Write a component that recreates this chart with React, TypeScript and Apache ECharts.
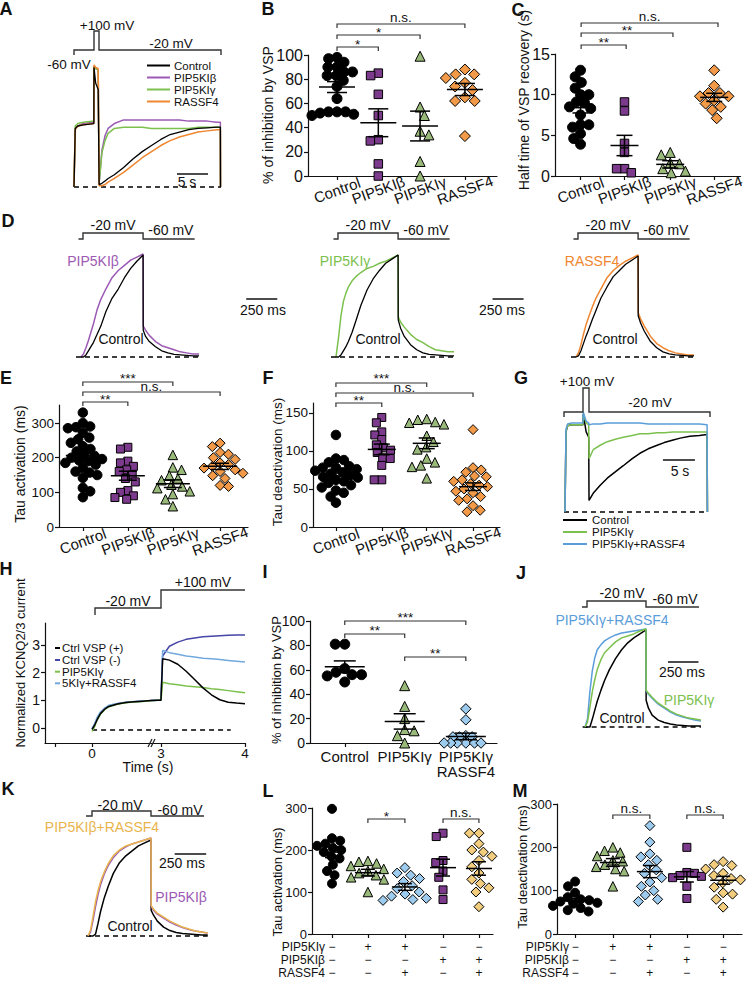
import React, { useEffect, useRef } from 'react';
import * as echarts from 'echarts';

const FONT = '"Liberation Sans", Arial, Helvetica, sans-serif';
const INK = '#111111';

const C_BLACK = '#000000';
const C_PURPLE = '#9C5AB4';
const C_GREEN = '#7CC04E';
const C_ORANGE = '#EF8630';
const C_BLUE = '#5B9DDA';
const C_NAVY = '#4545A6';
const C_LBLUE = '#72A8DE';
const C_TAN = '#E9B44C';
const M_PURPLE = '#7B3A8B';
const M_GREEN = '#98B979';
const M_ORANGE = '#F29A47';
const M_LBLUE = '#9DCBEE';
const M_TAN = '#F2CD7D';

// ---------------- Panel A (normalized current, time in s) ----------------
const aTime = [0, 0.2, 0.6, 1.5, 3.2, 3.22, 3.5, 3.9, 4.0, 4.05, 4.5, 5.0, 5.5, 6.5, 8, 9.5, 11, 12.5, 14, 15.5, 17, 18.5, 20, 21.5, 23, 23.6, 23.62];
const aControl = [0, 0.48, 0.5, 0.51, 0.52, 0.98, 0.85, 0.8, 0.8, 0.02, 0.03, 0.05, 0.07, 0.1, 0.16, 0.23, 0.29, 0.34, 0.39, 0.43, 0.45, 0.47, 0.48, 0.485, 0.49, 0.49, 0];
const aBeta = [0, 0.48, 0.5, 0.52, 0.53, 0.99, 0.97, 0.96, 0.96, 0.03, 0.3, 0.42, 0.48, 0.52, 0.55, 0.55, 0.55, 0.55, 0.55, 0.55, 0.55, 0.54, 0.54, 0.54, 0.53, 0.53, 0];
const aGamma = [0, 0.5, 0.52, 0.53, 0.54, 0.99, 0.97, 0.96, 0.96, 0.03, 0.28, 0.38, 0.44, 0.48, 0.49, 0.49, 0.49, 0.48, 0.48, 0.48, 0.48, 0.48, 0.49, 0.49, 0.49, 0.49, 0];
const aRassf = [0, 0.47, 0.5, 0.51, 0.52, 1.0, 0.98, 0.97, 0.97, 0.01, 0.01, 0.02, 0.04, 0.07, 0.12, 0.18, 0.24, 0.29, 0.34, 0.38, 0.41, 0.43, 0.45, 0.46, 0.47, 0.47, 0];

// ---------------- Panel B (% inhibition) ----------------
const bControl = [98, 97, 94, 90, 90, 86, 86, 83, 83, 79, 74, 64, 53, 53, 53, 52, 51, 50];
const bBeta = [85, 83, 67.5, 50, 30, 29, 10, 0];
const bGamma = [99, 57, 50, 37, 34, 12, 0];
const bRassf = [88, 84, 84, 81, 77, 74, 71, 65, 62, 62, 33];
const bMean = [73.5, 44, 41.3, 71.5];
const bSem = [4.5, 11.5, 12.3, 5];
const bTicks = [0, 20, 40, 60, 80, 100];

// ---------------- Panel C (half time, s) ----------------
const cControl = [13, 12.2, 11.5, 10.8, 10, 10, 9.1, 9, 8.5, 8.3, 7.5, 6.3, 6.3, 6, 5.2, 4.6, 3.9];
const cBeta = [9.1, 8, 4, 2.9, 0.9, 0.9, 0.4];
const cGamma = [2.9, 2.6, 1.6, 1.5, 0.9, 0.6, 0.4];
const cRassf = [13, 11.1, 10.2, 10.2, 9.8, 9.8, 9.3, 8.9, 8.5, 8.1, 7.1];
const cMean = [8.4, 3.75, 1.43, 9.67];
const cSem = [0.65, 1.25, 0.45, 0.5];
const cTicks = [0, 5, 10, 15];

// ---------------- Panels D, J, K (time in ms, normalized) ----------------
const tMs = [0, 20, 40, 60, 80, 100, 130, 160, 200, 250, 300, 350, 400, 450, 500, 501, 520, 550, 600, 650, 700, 750, 800, 850, 900, 950];
const d1Beta = [0, 0.03, 0.09, 0.16, 0.24, 0.32, 0.46, 0.56, 0.66, 0.77, 0.84, 0.89, 0.94, 0.97, 1.0, 0.3, 0.26, 0.21, 0.15, 0.11, 0.09, 0.07, 0.05, 0.04, 0.03, 0.03];
const d1Ctrl = [0, 0, 0.02, 0.06, 0.1, 0.14, 0.22, 0.3, 0.44, 0.57, 0.66, 0.77, 0.86, 0.93, 0.99, 0.26, 0.2, 0.15, 0.1, 0.06, 0.04, 0.025, 0.02, 0.015, 0.01, 0.01];
const d2Gamma = [0, 0.18, 0.4, 0.54, 0.62, 0.68, 0.74, 0.78, 0.82, 0.86, 0.88, 0.91, 0.93, 0.96, 0.99, 0.39, 0.34, 0.29, 0.22, 0.17, 0.14, 0.1, 0.07, 0.06, 0.05, 0.05];
const d2Ctrl = [0, 0, 0.02, 0.06, 0.1, 0.15, 0.24, 0.35, 0.5, 0.65, 0.76, 0.84, 0.91, 0.95, 0.99, 0.36, 0.28, 0.2, 0.12, 0.07, 0.04, 0.025, 0.02, 0.015, 0.01, 0.01];
const d3Rassf = [0, 0.04, 0.12, 0.22, 0.31, 0.38, 0.48, 0.57, 0.66, 0.77, 0.84, 0.89, 0.93, 0.96, 0.99, 0.43, 0.37, 0.3, 0.2, 0.13, 0.09, 0.06, 0.04, 0.03, 0.02, 0.02];
const d3Ctrl = [0, 0.01, 0.06, 0.13, 0.2, 0.26, 0.36, 0.45, 0.57, 0.68, 0.78, 0.84, 0.9, 0.94, 0.98, 0.4, 0.33, 0.25, 0.15, 0.09, 0.05, 0.03, 0.02, 0.015, 0.01, 0.01];
const jRassf = [0, 0.08, 0.36, 0.57, 0.7, 0.78, 0.83, 0.87, 0.9, 0.93, 0.95, 0.96, 0.97, 0.98, 0.99, 0.37, 0.33, 0.29, 0.23, 0.19, 0.15, 0.12, 0.1, 0.085, 0.07, 0.06];
const jGamma = [0, 0.05, 0.2, 0.36, 0.48, 0.58, 0.68, 0.75, 0.8, 0.86, 0.9, 0.92, 0.94, 0.97, 0.99, 0.37, 0.34, 0.3, 0.24, 0.2, 0.16, 0.13, 0.11, 0.09, 0.08, 0.07];
const jCtrl = [0, 0, 0, 0.08, 0.17, 0.26, 0.37, 0.47, 0.58, 0.69, 0.78, 0.85, 0.9, 0.94, 0.98, 0.27, 0.19, 0.12, 0.07, 0.045, 0.03, 0.02, 0.015, 0.01, 0.01, 0.01];
const kRassf = [0, 0.06, 0.2, 0.35, 0.46, 0.55, 0.65, 0.73, 0.81, 0.87, 0.91, 0.93, 0.95, 0.97, 0.99, 0.31, 0.27, 0.23, 0.19, 0.15, 0.12, 0.09, 0.07, 0.05, 0.04, 0.03];
const kBeta = [0, 0.04, 0.16, 0.3, 0.42, 0.52, 0.63, 0.71, 0.79, 0.86, 0.9, 0.93, 0.95, 0.97, 0.99, 0.3, 0.26, 0.22, 0.18, 0.14, 0.11, 0.085, 0.065, 0.05, 0.04, 0.03];
const kCtrl = [0, 0, 0, 0.02, 0.13, 0.25, 0.39, 0.5, 0.63, 0.74, 0.81, 0.86, 0.91, 0.94, 0.97, 0.26, 0.21, 0.15, 0.09, 0.055, 0.035, 0.025, 0.02, 0.015, 0.01, 0.01];

// ---------------- Panel E (tau activation) / F (tau deactivation) ----------------
const eControl = [330, 300, 290, 288, 285, 272, 258, 253, 243, 233, 225, 218, 210, 205, 200, 196, 192, 190, 185, 180, 170, 160, 157, 150, 142, 113, 103, 86];
const eBeta = [230, 225, 190, 185, 175, 165, 160, 150, 140, 130, 105, 100, 90, 85, 80];
const eGamma = [208, 172, 165, 148, 140, 135, 122, 117, 112, 103, 95, 80, 60];
const eRassf = [242, 232, 215, 210, 200, 195, 185, 180, 175, 170, 165, 160, 155, 148, 140, 120, 117];
const eMean = [206, 148, 125, 175];
const eSem = [12, 13, 11, 9];
const eTicks = [0, 100, 200, 300];
const fControl = [121, 90, 88, 85, 80, 78, 78, 76, 74, 72, 70, 68, 66, 65, 62, 60, 58, 55, 52, 48, 45, 40, 32];
const fBeta = [144, 137, 125, 121, 115, 108, 104, 101, 98, 91, 90, 81, 62, 62];
const fGamma = [142, 141, 138, 137, 135, 120, 112, 105, 102, 90, 85, 81, 79, 64];
const fRassf = [128, 78, 75, 72, 67, 66, 62, 60, 57, 55, 53, 50, 47, 45, 40, 37, 35, 28, 22, 20];
const fMean = [67, 102, 110, 53];
const fSem = [4, 7, 7, 5];
const fTicks = [0, 50, 100, 150];

// ---------------- Panel G (time in s) ----------------
const gTime = [0, 0.15, 0.4, 1, 2, 2.8, 2.85, 3.3, 3.7, 3.75, 4.4, 5.5, 6.6, 8, 9.1, 10.5, 11.7, 13, 14.4, 15.5, 16.9, 18, 19.5, 21, 22.2, 22.25];
const gCtrl = [0, 0.9, 0.97, 0.98, 0.98, 0.98, 1.1, 0.9, 0.84, 0.13, 0.21, 0.3, 0.38, 0.46, 0.52, 0.6, 0.66, 0.71, 0.75, 0.78, 0.81, 0.83, 0.85, 0.86, 0.87, 0];
const gGamma = [0, 0.9, 0.97, 0.98, 0.98, 0.98, 1.1, 1.0, 0.98, 0.6, 0.7, 0.75, 0.79, 0.82, 0.84, 0.86, 0.88, 0.88, 0.89, 0.89, 0.9, 0.9, 0.9, 0.9, 0.9, 0];
const gRassf = [0, 0.93, 0.99, 1.0, 1.0, 1.0, 1.12, 1.02, 1.0, 0.98, 0.99, 0.99, 1.0, 1.0, 1.0, 1.0, 1.0, 0.99, 0.99, 0.99, 0.99, 0.99, 0.99, 0.99, 0.98, 0];

// ---------------- Panel H (time in s, axis broken between 0.8 and 3 s) ----------------
const hTime = [0, 0.03, 0.06, 0.1, 0.15, 0.2, 0.3, 0.4, 0.5, 0.6, 0.7, 0.78, 3.0, 3.02, 3.1, 3.2, 3.3, 3.4, 3.5, 3.6, 3.7, 3.8, 3.9, 4.0];
const hCtrlPlus = [-0.05, 0.1, 0.3, 0.52, 0.68, 0.78, 0.87, 0.92, 0.95, 0.97, 0.99, 1.0, 1.0, 2.5, 2.45, 2.3, 2.05, 1.75, 1.45, 1.2, 1.02, 0.93, 0.9, 0.88];
const hCtrlMinus = [-0.02, 0.12, 0.33, 0.55, 0.7, 0.8, 0.88, 0.92, 0.95, 0.97, 0.99, 1.0, 1.0, 2.6, 2.95, 3.1, 3.2, 3.25, 3.29, 3.31, 3.33, 3.35, 3.36, 3.36];
const hGamma = [-0.12, 0.05, 0.28, 0.5, 0.66, 0.77, 0.86, 0.91, 0.94, 0.96, 0.98, 1.0, 1.0, 1.65, 1.6, 1.56, 1.52, 1.49, 1.46, 1.42, 1.39, 1.35, 1.31, 1.27];
const hRassf = [-0.05, 0.15, 0.38, 0.58, 0.72, 0.82, 0.89, 0.93, 0.96, 0.98, 0.99, 1.0, 1.0, 2.8, 2.72, 2.66, 2.6, 2.56, 2.52, 2.5, 2.47, 2.44, 2.41, 2.38];
const hTicks = [0, 1, 2, 3];
const hTimeTicks = ['', '0', '3', '4'];

// ---------------- Panel I ----------------
const iControl = [81, 81, 61, 58, 56, 56, 55, 50];
const iGamma = [47, 30, 20, 11, 10, 6, 0];
const iRassf = [28, 19, 6, 5, 5, 5, 0, 0, 0, 0, 0, 0];
const iMean = [62.5, 17.7, 5.4];
const iSem = [4.8, 6.3, 2.7];
const iTicks = [0, 20, 40, 60, 80, 100];

// ---------------- Panels L / M ----------------
const lCtrl = [298, 228, 222, 215, 210, 205, 200, 195, 185, 180, 165, 150, 140, 120];
const lGamma = [174, 172, 168, 162, 155, 150, 145, 140, 135, 130, 100];
const lGammaR = [158, 145, 140, 132, 125, 115, 108, 100, 95, 90, 85, 82, 80];
const lBeta = [240, 232, 175, 170, 150, 135, 105, 82];
const lBetaR = [240, 240, 215, 200, 195, 185, 175, 160, 145, 130, 120, 110, 100, 65];
const lMean = [195, 146, 112, 158, 156];
const lSem = [13, 8, 8, 20, 16];
const mCtrl = [121, 110, 95, 85, 80, 78, 75, 72, 70, 65, 60, 55, 52];
const mGamma = [200, 192, 188, 180, 170, 168, 160, 155, 150, 145, 110];
const mGammaR = [250, 212, 185, 178, 170, 160, 148, 140, 130, 120, 110, 100, 90, 80, 75];
const mBeta = [200, 142, 140, 135, 133, 130, 110, 82];
const mBetaR = [167, 160, 158, 150, 140, 135, 128, 125, 118, 108, 95, 92, 80, 62];
const mMean = [77, 165, 144, 132, 124];
const mSem = [5, 9, 14, 12, 9];
const lmTicks = [0, 100, 200, 300];

const catsFour = ['Control', 'PIP5KIβ', 'PIP5KIγ', 'RASSF4'];
const catsI = ['Control', 'PIP5KIγ', 'PIP5KIγ\nRASSF4'];
const tableRows = ['PIP5KIγ', 'PIP5KIβ', 'RASSF4'];
const tableSigns = [
  ['−', '+', '+', '−', '−'],
  ['−', '−', '−', '+', '+'],
  ['−', '−', '+', '−', '+'],
];

// ------------------------------------------------------------------
type Box = { left: number; top: number; width: number; height: number; xMin: number; xMax: number; yMin: number; yMax: number };
const px = (b: Box, v: number) => b.left + ((v - b.xMin) / (b.xMax - b.xMin)) * b.width;

function swarm(vals: number[], pxY: number, d: number): number[] {
  const order = vals.map((_, i) => i).sort((a, b) => vals[b] - vals[a]);
  const placed: [number, number][] = [];
  const out = new Array(vals.length).fill(0);
  order.forEach((i, n) => {
    const y = vals[i] * pxY;
    const cands = [0];
    placed.forEach(([qx, qy]) => {
      const dy = Math.abs(qy - y);
      if (dy < d) {
        const dx = Math.sqrt(d * d - dy * dy);
        cands.push(qx + dx, qx - dx);
      }
    });
    const sgn = n % 2 ? 1 : -1;
    cands.sort((a, b) => Math.abs(a) - Math.abs(b) || (a - b) * sgn);
    let best = 0;
    for (const c of cands) {
      if (placed.every(([qx, qy]) => (qx - c) ** 2 + (qy - y) ** 2 >= d * d - 0.01)) {
        best = c;
        break;
      }
    }
    out[i] = best;
    placed.push([best, y]);
  });
  return out;
}

function txt(x: number, y: number, text: string, o: any = {}) {
  const align = o.align || 'center';
  const va = o.va || 'middle';
  return {
    type: 'text', x, y, rotation: o.rot || 0, silent: true, z: 50,
    style: {
      text, fill: o.color || INK, fontSize: o.size || 13.5, fontFamily: FONT,
      fontWeight: o.bold ? 'bold' : 'normal',
      align, verticalAlign: va, textAlign: align, textVerticalAlign: va,
    },
  };
}
function seg(x1: number, y1: number, x2: number, y2: number, o: any = {}) {
  return { type: 'line', silent: true, z: 50, shape: { x1, y1, x2, y2 }, style: { stroke: o.color || '#222', lineWidth: o.w || 1.3 } };
}
function poly(points: number[][], o: any = {}) {
  return { type: 'polyline', silent: true, z: 50, shape: { points }, style: { stroke: o.color || '#333', lineWidth: o.w || 1.4, fill: 'none' } };
}

function buildOption() {
  const grid: any[] = [];
  const xAxis: any[] = [];
  const yAxis: any[] = [];
  const series: any[] = [];
  const graphic: any[] = [];
  const axLine = { show: true, onZero: false, lineStyle: { color: INK, width: 1.2 } };
  const tickStyle = { color: INK, width: 1.2 };
  const hidden = { show: false, splitLine: { show: false } };

  const addGrid = (b: Box, xa: any, ya: any) => {
    const g = grid.length;
    grid.push({ left: b.left, top: b.top, width: b.width, height: b.height, containLabel: false });
    xAxis.push({ gridIndex: g, type: 'value', min: b.xMin, max: b.xMax, ...xa });
    yAxis.push({ gridIndex: g, type: 'value', min: b.yMin, max: b.yMax, ...ya });
    return { g, x: xAxis.length - 1, y: yAxis.length - 1 };
  };

  const tracePanel = (b: Box, time: number[], traces: { vals: number[]; color: string; w?: number }[], baseline = true) => {
    const ax = addGrid(b, hidden, hidden);
    traces.forEach((tr, k) => {
      series.push({
        type: 'line', xAxisIndex: ax.x, yAxisIndex: ax.y, silent: true, clip: false, z: 3 + k,
        showSymbol: false, symbol: 'none',
        lineStyle: { color: tr.color, width: tr.w || 1.5 },
        data: time.map((t, j) => [t, tr.vals[j]]),
        markLine: k === 0 && baseline ? {
          silent: true, symbol: ['none', 'none'], label: { show: false },
          lineStyle: { color: '#000', width: 1.5, type: [5, 4] }, data: [{ yAxis: 0 }],
        } : undefined,
      });
    });
    return ax;
  };

  const scatterPanel = (
    b: Box, pos: number[],
    groups: { vals: number[]; symbol: string; color: string; size: number; spread?: number }[],
    mean: number[], sem: number[],
    o: { yTicks: number[]; tickSize: number; cats: string[]; catSize: number; rotate?: number; catMargin: number; lineHeight?: number; meanHalf: number; capHalf: number; split?: boolean },
  ) => {
    const labelFor = (v: number) => {
      const k = pos.findIndex((p) => Math.abs(p - v) < 1e-6);
      return k >= 0 ? o.cats[k] : '';
    };
    const labelBase = {
      show: true, showMinLabel: true, showMaxLabel: true, hideOverlap: false, formatter: labelFor,
      rotate: o.rotate || 0, align: 'center', verticalAlign: o.rotate ? 'middle' : 'top',
      margin: o.catMargin, fontSize: o.catSize, fontFamily: FONT, color: INK, lineHeight: o.lineHeight,
    };
    const firstVals = o.split ? pos.filter((_, k) => k % 2 === 0) : pos;
    const ax = addGrid(b, {
      axisLine: axLine, splitLine: { show: false },
      axisTick: { show: true, customValues: pos, length: 4, lineStyle: tickStyle },
      axisLabel: { ...labelBase, customValues: firstVals },
    }, {
      axisLine: axLine, splitLine: { show: false },
      axisTick: { show: true, customValues: o.yTicks, length: 4, lineStyle: tickStyle },
      axisLabel: { show: true, customValues: o.yTicks, showMinLabel: true, showMaxLabel: true, fontSize: o.tickSize, fontFamily: FONT, color: INK, margin: 5 },
    });
    if (o.split) {
      xAxis.push({
        gridIndex: ax.g, type: 'value', min: b.xMin, max: b.xMax, position: 'bottom',
        axisLine: { show: false }, axisTick: { show: false }, splitLine: { show: false },
        axisLabel: { ...labelBase, customValues: pos.filter((_, k) => k % 2 === 1) },
      });
    }
    const pxX = b.width / (b.xMax - b.xMin);
    const pxY = b.height / (b.yMax - b.yMin);
    groups.forEach((g, k) => {
      const off = swarm(g.vals, pxY, g.size * (g.spread || 0.95));
      series.push({
        type: 'scatter', xAxisIndex: ax.x, yAxisIndex: ax.y, silent: true, clip: false, z: 3,
        symbol: g.symbol, symbolSize: g.size,
        itemStyle: { color: g.color, borderColor: '#000', borderWidth: 1, opacity: 1 },
        data: g.vals.map((v, j) => [pos[k] + off[j] / pxX, v]),
      });
    });
    const hw = o.meanHalf;
    const cw = o.capHalf;
    series.push({
      type: 'custom', xAxisIndex: ax.x, yAxisIndex: ax.y, silent: true, z: 6, clip: false,
      data: mean.map((m, k) => [pos[k], m, sem[k]]),
      renderItem: (_p: any, api: any) => {
        const x = api.value(0);
        const m = api.value(1);
        const s = api.value(2);
        const c = api.coord([x, m]);
        const t = api.coord([x, m + s]);
        const d = api.coord([x, m - s]);
        const st = { stroke: '#000', lineWidth: 1.5 };
        return {
          type: 'group',
          children: [
            { type: 'line', shape: { x1: c[0] - hw, y1: c[1], x2: c[0] + hw, y2: c[1] }, style: st },
            { type: 'line', shape: { x1: c[0], y1: t[1], x2: c[0], y2: d[1] }, style: st },
            { type: 'line', shape: { x1: c[0] - cw, y1: t[1], x2: c[0] + cw, y2: t[1] }, style: st },
            { type: 'line', shape: { x1: c[0] - cw, y1: d[1], x2: c[0] + cw, y2: d[1] }, style: st },
          ],
        };
      },
    });
    return ax;
  };

  const bracket = (b: Box, x1: number, x2: number, y: number, label: string, ty: number, size = 13.5) => {
    const a = px(b, x1);
    const c = px(b, x2);
    graphic.push(poly([[a, y + 4], [a, y], [c, y], [c, y + 4]], { w: 1.2, color: '#333' }));
    graphic.push(txt((a + c) / 2, ty, label, { size }));
  };

  const scaleBar = (b: Box, x0: number, len: number, y: number, label: string, tx: number, ty: number) => {
    graphic.push(seg(px(b, x0), y, px(b, x0 + len), y, { w: 1.5, color: '#111' }));
    graphic.push(txt(tx, ty, label, { size: 14 }));
  };

  const R = Math.PI / 2;

  // ---------- A ----------
  const boxA: Box = { left: 74, top: 65, width: 147, height: 122, xMin: 0, xMax: 23.7, yMin: 0, yMax: 1 };
  tracePanel(boxA, aTime, [
    { vals: aBeta, color: C_PURPLE }, { vals: aGamma, color: C_GREEN },
    { vals: aRassf, color: C_ORANGE }, { vals: aControl, color: C_BLACK, w: 1.3 },
  ]);
  graphic.push(poly([[74, 55], [74, 50], [94, 50], [94, 31], [99, 31], [99, 50], [221, 50], [221, 55]]));
  graphic.push(txt(107, 25, '+100 mV'), txt(171, 43, '-20 mV'), txt(69, 64, '-60 mV'));
  [['Control', C_BLACK, 65.5], ['PIP5KIβ', C_PURPLE, 77.5], ['PIP5KIγ', C_GREEN, 89.5], ['RASSF4', C_ORANGE, 101.5]].forEach(([t, c, y]) => {
    graphic.push(seg(147, y as number, 170, y as number, { color: c, w: 2 }));
    graphic.push(txt(174, y as number, t as string, { align: 'left', size: 11.5 }));
  });
  scaleBar(boxA, 16.6, 5, 174, '5 s', 187, 182);

  // ---------- B ----------
  const boxB: Box = { left: 308, top: 55, width: 189, height: 121, xMin: 0, xMax: 4.3, yMin: 0, yMax: 100 };
  scatterPanel(boxB, [0.66, 1.6, 2.55, 3.57], [
    { vals: bControl, symbol: 'circle', color: '#000', size: 10, spread: 0.85 },
    { vals: bBeta, symbol: 'rect', color: M_PURPLE, size: 8.5 },
    { vals: bGamma, symbol: 'triangle', color: M_GREEN, size: 10 },
    { vals: bRassf, symbol: 'diamond', color: M_ORANGE, size: 11 },
  ], bMean, bSem, { yTicks: bTicks, tickSize: 16, cats: catsFour, catSize: 15, rotate: 20, catMargin: 14, meanHalf: 18, capHalf: 10, split: true });
  bracket(boxB, 0.66, 1.6, 47, '*', 44);
  bracket(boxB, 0.66, 2.55, 35, '*', 32);
  bracket(boxB, 0.66, 3.57, 24, 'n.s.', 17);
  graphic.push(txt(268, 115, '% of inhibition by VSP', { rot: R, size: 14 }));

  // ---------- C ----------
  const boxC: Box = { left: 555, top: 54, width: 190, height: 122, xMin: 0, xMax: 4.22, yMin: 0, yMax: 15 };
  scatterPanel(boxC, [0.58, 1.58, 2.62, 3.62], [
    { vals: cControl, symbol: 'circle', color: '#000', size: 10, spread: 0.85 },
    { vals: cBeta, symbol: 'rect', color: M_PURPLE, size: 8.5 },
    { vals: cGamma, symbol: 'triangle', color: M_GREEN, size: 10 },
    { vals: cRassf, symbol: 'diamond', color: M_ORANGE, size: 11, spread: 0.85 },
  ], cMean, cSem, { yTicks: cTicks, tickSize: 16, cats: catsFour, catSize: 15, rotate: 20, catMargin: 14, meanHalf: 14, capHalf: 8, split: true });
  bracket(boxC, 0.58, 1.58, 45, '**', 42);
  bracket(boxC, 0.58, 2.62, 33, '**', 30);
  bracket(boxC, 0.58, 3.62, 23, 'n.s.', 16);
  graphic.push(txt(524, 100, 'Half time of VSP recovery (s)', { rot: R, size: 14 }));

  // ---------- D ----------
  const boxD1: Box = { left: 76, top: 254, width: 123, height: 103, xMin: -40, xMax: 950, yMin: 0, yMax: 1 };
  const boxD2: Box = { ...boxD1, left: 331 };
  const boxD3: Box = { ...boxD1, left: 571 };
  tracePanel(boxD1, tMs, [{ vals: d1Beta, color: C_PURPLE }, { vals: d1Ctrl, color: C_BLACK, w: 1.3 }]);
  tracePanel(boxD2, tMs, [{ vals: d2Gamma, color: C_GREEN }, { vals: d2Ctrl, color: C_BLACK, w: 1.3 }]);
  tracePanel(boxD3, tMs, [{ vals: d3Rassf, color: C_ORANGE }, { vals: d3Ctrl, color: C_BLACK, w: 1.3 }]);
  [[boxD1, 'PIP5KIβ', C_PURPLE, 93, 121], [boxD2, 'PIP5KIγ', C_GREEN, 345, 378], [boxD3, 'RASSF4', C_ORANGE, 592, 615]].forEach(([b, name, col, lx, cx]) => {
    const bb = b as Box;
    const s = px(bb, -20);
    const up = px(bb, 0) + 2;
    const dn = px(bb, 500);
    const e = px(bb, 915);
    graphic.push(poly([[s, 239], [up, 239], [up, 233], [dn, 233], [dn, 239], [e, 239]]));
    graphic.push(txt((up + dn) / 2, 225, '-20 mV', { size: 14 }));
    graphic.push(txt((dn + e) / 2 + 2, 230, '-60 mV', { size: 14 }));
    graphic.push(txt(lx as number, 261, name as string, { color: col, size: 14 }));
    graphic.push(txt(cx as number, 339, 'Control', { size: 14 }));
  });
  scaleBar(boxD1, 1330, 250, 299, '250 ms', 263, 310);
  scaleBar(boxD2, 1260, 250, 299, '250 ms', 502, 310);

  // ---------- E ----------
  const boxE: Box = { left: 59, top: 405, width: 189, height: 122, xMin: 0, xMax: 4.2, yMin: 0, yMax: 352 };
  scatterPanel(boxE, [0.53, 1.53, 2.53, 3.58], [
    { vals: eControl, symbol: 'circle', color: '#000', size: 9.5, spread: 0.85 },
    { vals: eBeta, symbol: 'rect', color: M_PURPLE, size: 8 },
    { vals: eGamma, symbol: 'triangle', color: M_GREEN, size: 9.5 },
    { vals: eRassf, symbol: 'diamond', color: M_ORANGE, size: 10, spread: 0.85 },
  ], eMean, eSem, { yTicks: eTicks, tickSize: 13.5, cats: catsFour, catSize: 15, rotate: 20, catMargin: 14, meanHalf: 17, capHalf: 9, split: true });
  bracket(boxE, 0.53, 1.53, 402, '**', 399);
  bracket(boxE, 0.53, 2.53, 382, '***', 378);
  bracket(boxE, 0.53, 3.58, 392, 'n.s.', 386);
  graphic.push(txt(20, 464, 'Tau activation (ms)', { rot: R, size: 14 }));

  // ---------- F ----------
  const boxF: Box = { left: 313, top: 403, width: 187, height: 124, xMin: 0, xMax: 4.16, yMin: 0, yMax: 163 };
  scatterPanel(boxF, [0.51, 1.53, 2.53, 3.56], [
    { vals: fControl, symbol: 'circle', color: '#000', size: 9.5, spread: 0.85 },
    { vals: fBeta, symbol: 'rect', color: M_PURPLE, size: 8 },
    { vals: fGamma, symbol: 'triangle', color: M_GREEN, size: 9.5 },
    { vals: fRassf, symbol: 'diamond', color: M_ORANGE, size: 10, spread: 0.85 },
  ], fMean, fSem, { yTicks: fTicks, tickSize: 13.5, cats: catsFour, catSize: 15, rotate: 20, catMargin: 14, meanHalf: 14, capHalf: 8, split: true });
  bracket(boxF, 0.51, 1.53, 403, '**', 400);
  bracket(boxF, 0.51, 2.53, 383, '***', 378);
  bracket(boxF, 0.51, 3.56, 393, 'n.s.', 387);
  graphic.push(txt(277, 462, 'Tau deactivation (ms)', { rot: R, size: 13.5 }));

  // ---------- G ----------
  const boxG: Box = { left: 564, top: 423, width: 144, height: 89, xMin: -0.16, xMax: 22.34, yMin: 0, yMax: 1 };
  tracePanel(boxG, gTime, [{ vals: gCtrl, color: C_BLACK }, { vals: gGamma, color: C_GREEN }, { vals: gRassf, color: C_BLUE }]);
  graphic.push(poly([[564, 417], [564, 412], [583, 412], [583, 388], [589, 388], [589, 412], [710, 412], [710, 417]]));
  graphic.push(txt(587, 381, '+100 mV'), txt(650, 402, '-20 mV'));
  [['Control', C_BLACK, 520], ['PIP5KIγ', C_GREEN, 532], ['PIP5KIγ+RASSF4', C_BLUE, 544]].forEach(([t, c, y]) => {
    graphic.push(seg(563, y as number, 587, y as number, { color: c, w: 2 }));
    graphic.push(txt(592, y as number, t as string, { align: 'left', size: 11.5 }));
  });
  scaleBar(boxG, 15.3, 5, 460, '5 s', 680, 471);

  // ---------- H ----------
  const boxH: Box = { left: 45, top: 623, width: 200, height: 120, xMin: -0.56, xMax: 1.82, yMin: -0.54, yMax: 3.79 };
  const hShow = (t: number) => (t < 2 ? t : t - 2.18);
  const hX = [-0.44, 0, 0.82, 1.82];
  const hAx = addGrid(boxH, {
    axisLine: axLine, splitLine: { show: false },
    axisTick: { show: true, customValues: hX, length: 4, lineStyle: tickStyle },
    axisLabel: {
      show: true, customValues: hX, showMinLabel: true, showMaxLabel: true, fontSize: 13.5, fontFamily: FONT, color: INK, margin: 3,
      formatter: (v: number) => {
        const k = hX.findIndex((p) => Math.abs(p - v) < 1e-6);
        return k >= 0 ? hTimeTicks[k] : '';
      },
    },
  }, {
    axisLine: axLine, splitLine: { show: false },
    axisTick: { show: true, customValues: hTicks, length: 4, lineStyle: tickStyle },
    axisLabel: { show: true, customValues: hTicks, fontSize: 14, fontFamily: FONT, color: INK, margin: 5 },
  });
  [[hCtrlMinus, C_NAVY], [hRassf, C_LBLUE], [hGamma, C_GREEN], [hCtrlPlus, C_BLACK]].forEach(([vals, col], k) => {
    series.push({
      type: 'line', xAxisIndex: hAx.x, yAxisIndex: hAx.y, silent: true, clip: false, z: 3 + k,
      showSymbol: false, symbol: 'none', lineStyle: { color: col, width: 1.5 },
      data: hTime.map((t, j) => [hShow(t), (vals as number[])[j]]),
      markLine: k === 0 ? {
        silent: true, symbol: ['none', 'none'], label: { show: false },
        lineStyle: { color: '#000', width: 1.5, type: [5, 4] },
        data: [[{ coord: [0, -0.05] }, { coord: [1.65, -0.05] }]],
      } : undefined,
    });
  });
  graphic.push(poly([[95, 615], [95, 608], [161, 608], [161, 590], [245, 590]]));
  graphic.push(txt(203, 582, '+100 mV', { size: 14 }), txt(128, 601, '-20 mV', { size: 14 }));
  [['Ctrl VSP (+)', C_BLACK, 648], ['Ctrl VSP (-)', C_NAVY, 660], ['PIP5KIγ', C_GREEN, 671.7], ['5KIγ+RASSF4', C_LBLUE, 683.3]].forEach(([t, c, y]) => {
    graphic.push(seg(55, y as number, 60, y as number, { color: c, w: 2 }));
    graphic.push(txt(62, y as number, t as string, { align: 'left', size: 11.5 }));
  });
  graphic.push(seg(148, 747, 152, 739, { w: 1.2 }), seg(151, 747, 155, 739, { w: 1.2 }));
  graphic.push(txt(20, 663, 'Normalized KCNQ2/3 current', { rot: R, size: 13 }));
  graphic.push(txt(148, 767, 'Time (s)', { size: 14 }));

  // ---------- I ----------
  const boxI: Box = { left: 310, top: 621, width: 187, height: 122, xMin: 0, xMax: 3.12, yMin: 0, yMax: 100 };
  scatterPanel(boxI, [0.58, 1.58, 2.6], [
    { vals: iControl, symbol: 'circle', color: '#000', size: 10 },
    { vals: iGamma, symbol: 'triangle', color: M_GREEN, size: 10 },
    { vals: iRassf, symbol: 'diamond', color: M_LBLUE, size: 10.5, spread: 0.62 },
  ], iMean, iSem, { yTicks: iTicks, tickSize: 14, cats: catsI, catSize: 15, catMargin: 6, lineHeight: 15, meanHalf: 20, capHalf: 11 });
  bracket(boxI, 0.58, 1.58, 634, '**', 630);
  bracket(boxI, 0.58, 2.6, 621, '***', 617);
  bracket(boxI, 1.58, 2.6, 657, '**', 653);
  graphic.push(txt(276, 680, '% of inhibition by VSP', { rot: R, size: 13 }));

  // ---------- J ----------
  const boxJ: Box = { left: 582.6, top: 628, width: 118.3, height: 99, xMin: -20, xMax: 950, yMin: 0, yMax: 1 };
  tracePanel(boxJ, tMs, [{ vals: jCtrl, color: C_BLACK }, { vals: jRassf, color: C_BLUE }, { vals: jGamma, color: C_GREEN }]);
  graphic.push(poly([[582, 607], [587, 607], [587, 601], [646, 601], [646, 607], [699, 607]]));
  graphic.push(txt(622, 593, '-20 mV', { size: 14 }), txt(675, 599, '-60 mV', { size: 14 }));
  graphic.push(txt(612, 620, 'PIP5KIγ+RASSF4', { color: C_BLUE, size: 14 }));
  graphic.push(txt(689, 700, 'PIP5KIγ', { color: C_GREEN, size: 14 }));
  graphic.push(txt(622, 718, 'Control', { size: 14 }));
  scaleBar(boxJ, 680, 250, 662, '250 ms', 682, 672);

  // ---------- K ----------
  const boxK: Box = { left: 86, top: 837, width: 121.7, height: 99, xMin: -16, xMax: 950, yMin: 0, yMax: 1 };
  tracePanel(boxK, tMs, [{ vals: kCtrl, color: C_BLACK }, { vals: kBeta, color: C_PURPLE }, { vals: kRassf, color: C_TAN }]);
  graphic.push(poly([[86, 816], [92, 816], [92, 811], [151, 811], [151, 816], [204, 816]]));
  graphic.push(txt(120, 805, '-20 mV', { size: 14 }), txt(180, 810, '-60 mV', { size: 14 }));
  graphic.push(txt(102, 827, 'PIP5KIβ+RASSF4', { color: C_TAN, size: 14 }));
  graphic.push(txt(181, 897, 'PIP5KIβ', { color: C_PURPLE, size: 14 }));
  graphic.push(txt(130, 926, 'Control', { size: 14 }));
  scaleBar(boxK, 688, 250, 854, '250 ms', 182, 863);

  // ---------- L / M ----------
  const signCols = tableSigns[0].map((_, k) => tableSigns.map((r) => r[k]).join('\n'));
  const boxL: Box = { left: 312, top: 808, width: 181, height: 126, xMin: 0, xMax: 4.89, yMin: 0, yMax: 300 };
  scatterPanel(boxL, [0.54, 1.51, 2.51, 3.54, 4.51], [
    { vals: lCtrl, symbol: 'circle', color: '#000', size: 9 },
    { vals: lGamma, symbol: 'triangle', color: M_GREEN, size: 9.5 },
    { vals: lGammaR, symbol: 'diamond', color: M_LBLUE, size: 10 },
    { vals: lBeta, symbol: 'rect', color: M_PURPLE, size: 8 },
    { vals: lBetaR, symbol: 'diamond', color: M_TAN, size: 10 },
  ], lMean, lSem, { yTicks: lmTicks, tickSize: 13, cats: signCols, catSize: 12, catMargin: 6.5, lineHeight: 13, meanHalf: 13, capHalf: 7 });
  bracket(boxL, 1.51, 2.51, 819, '*', 816);
  bracket(boxL, 3.54, 4.51, 819, 'n.s.', 812);
  graphic.push(txt(277, 882, 'Tau activation (ms)', { rot: R, size: 13 }));

  const boxM: Box = { left: 557, top: 804, width: 185, height: 130, xMin: 0, xMax: 5.0, yMin: 0, yMax: 300 };
  scatterPanel(boxM, [0.49, 1.51, 2.51, 3.51, 4.49], [
    { vals: mCtrl, symbol: 'circle', color: '#000', size: 9 },
    { vals: mGamma, symbol: 'triangle', color: M_GREEN, size: 9.5 },
    { vals: mGammaR, symbol: 'diamond', color: M_LBLUE, size: 10 },
    { vals: mBeta, symbol: 'rect', color: M_PURPLE, size: 8 },
    { vals: mBetaR, symbol: 'diamond', color: M_TAN, size: 10 },
  ], mMean, mSem, { yTicks: lmTicks, tickSize: 13, cats: signCols, catSize: 12, catMargin: 6.5, lineHeight: 13, meanHalf: 13, capHalf: 7 });
  bracket(boxM, 1.51, 2.51, 815, 'n.s.', 808);
  bracket(boxM, 3.51, 4.49, 815, 'n.s.', 808);
  graphic.push(txt(522, 867, 'Tau deactivation (ms)', { rot: R, size: 13 }));
  tableRows.forEach((r, k) => {
    graphic.push(txt(325, 947 + k * 13, r, { align: 'right', size: 12 }));
    graphic.push(txt(569, 947 + k * 13, r, { align: 'right', size: 12 }));
  });

  // ---------- panel letters ----------
  [['A', 6, 9], ['B', 268, 9], ['C', 518, 10], ['D', 8, 221], ['E', 6, 378], ['F', 268, 378], ['G', 521, 378],
   ['H', 6, 569], ['I', 265, 572], ['J', 521, 573], ['K', 8, 789], ['L', 268, 791], ['M', 520, 791]].forEach(([t, x, y]) => {
    graphic.push(txt(x as number, y as number, t as string, { bold: true, size: 18, color: '#111' }));
  });

  return {
    animation: false,
    backgroundColor: '#ffffff',
    textStyle: { fontFamily: FONT },
    grid, xAxis, yAxis, series, graphic,
  };
}

export default function App() {
  const ref = useRef<HTMLDivElement>(null);
  useEffect(() => {
    if (!ref.current) return;
    const chart = echarts.init(ref.current, undefined, { renderer: 'svg' });
    chart.setOption(buildOption() as any);
    return () => chart.dispose();
  }, []);
  return <div ref={ref} style={{ position: 'absolute', left: 0, top: 0, width: 747, height: 981, background: '#fff' }} />;
}
